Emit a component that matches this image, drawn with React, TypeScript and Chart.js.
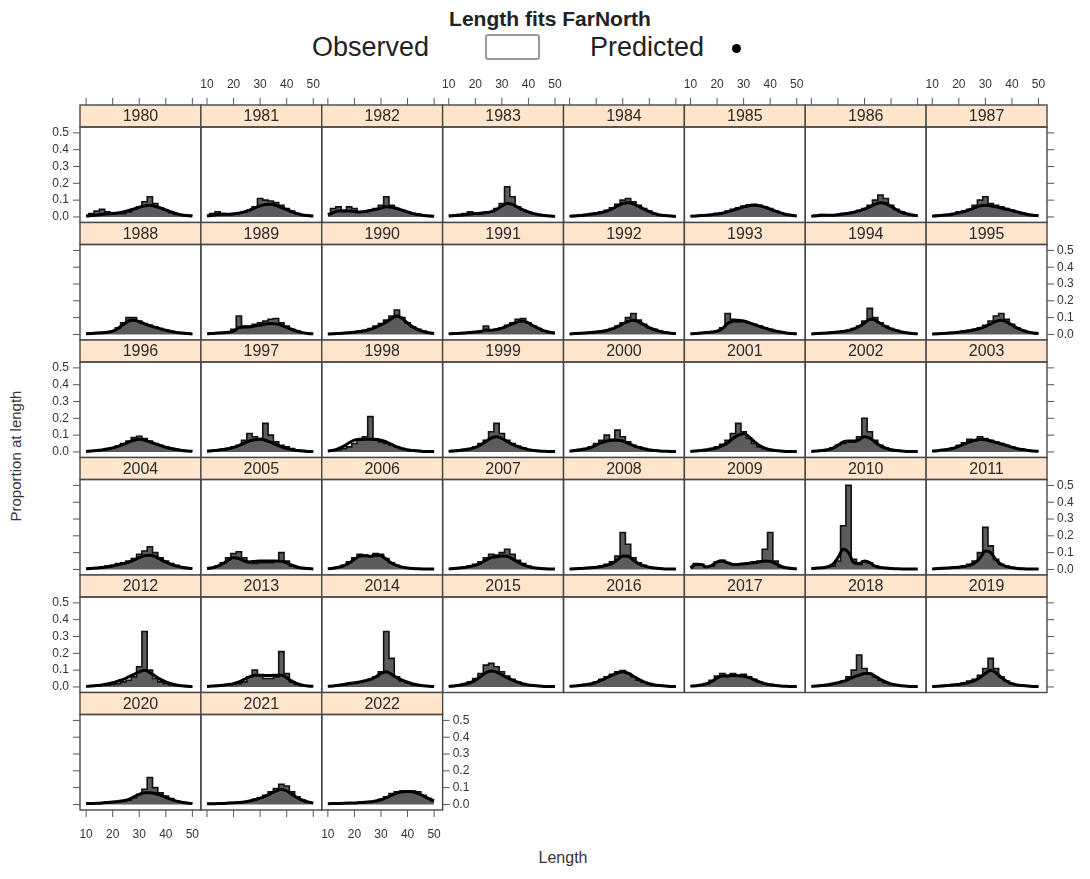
import React, { useEffect, useRef } from "react";
import { Chart, registerables } from "chart.js";

Chart.register(...registerables);

// ---------------- data ----------------
const lengthBins = [10, 12, 14, 16, 18, 20, 22, 24, 26, 28, 30, 32, 34, 36, 38, 40, 42, 44, 46, 48, 50];
const years = [
  1980, 1981, 1982, 1983, 1984, 1985, 1986, 1987,
  1988, 1989, 1990, 1991, 1992, 1993, 1994, 1995,
  1996, 1997, 1998, 1999, 2000, 2001, 2002, 2003,
  2004, 2005, 2006, 2007, 2008, 2009, 2010, 2011,
  2012, 2013, 2014, 2015, 2016, 2017, 2018, 2019,
  2020, 2021, 2022,
];
const xTicks = [10, 20, 30, 40, 50];
const yTicks = [0, 0.1, 0.2, 0.3, 0.4, 0.5];
const yTickLabels = ["0.0", "0.1", "0.2", "0.3", "0.4", "0.5"];

const obs1980 = [.01,.02,.035,.045,.03,.02,.025,.02,.03,.045,.06,.09,.12,.08,.055,.04,.025,.015,.01,.01,.01];
const obs1981 = [.01,.02,.03,.02,.015,.02,.025,.03,.04,.06,.11,.1,.095,.085,.07,.05,.035,.02,.012,.008,.005];
const obs1982 = [.02,.05,.06,.04,.06,.05,.03,.03,.04,.05,.07,.12,.07,.05,.04,.03,.02,.015,.01,.008,.005];
const obs1983 = [.01,.01,.015,.02,.03,.02,.02,.025,.03,.05,.08,.18,.12,.06,.04,.03,.02,.015,.01,.006,.004];
const obs1984 = [.005,.008,.01,.015,.02,.025,.03,.04,.055,.075,.1,.11,.09,.07,.05,.035,.02,.012,.008,.005,.003];
const obs1985 = [.005,.007,.01,.012,.015,.02,.025,.035,.045,.055,.065,.072,.075,.07,.06,.05,.035,.025,.015,.01,.006];
const obs1986 = [.005,.01,.015,.012,.01,.015,.02,.025,.03,.04,.05,.07,.1,.13,.11,.07,.045,.03,.02,.012,.008];
const obs1987 = [.005,.01,.012,.015,.02,.03,.035,.045,.07,.1,.12,.08,.07,.06,.05,.04,.03,.02,.015,.01,.008];
const obs1988 = [.005,.008,.01,.012,.015,.02,.04,.07,.1,.1,.08,.065,.055,.045,.035,.025,.018,.012,.008,.005,.003];
const obs1989 = [.005,.008,.01,.012,.015,.03,.11,.05,.05,.06,.07,.08,.09,.095,.07,.05,.03,.02,.01,.006,.004];
const obs1990 = [.003,.005,.008,.01,.012,.015,.02,.025,.035,.05,.065,.085,.11,.145,.1,.07,.045,.03,.02,.01,.006];
const obs1991 = [.004,.006,.008,.01,.012,.015,.02,.05,.025,.03,.04,.055,.07,.09,.095,.07,.05,.035,.02,.012,.008];
const obs1992 = [.003,.005,.008,.01,.012,.015,.02,.025,.035,.05,.07,.1,.125,.085,.06,.04,.03,.02,.012,.008,.005];
const obs1993 = [.005,.007,.01,.012,.015,.02,.04,.125,.09,.075,.08,.07,.06,.05,.04,.03,.02,.015,.01,.006,.004];
const obs1994 = [.003,.005,.008,.01,.012,.015,.02,.025,.035,.05,.08,.155,.1,.07,.05,.035,.025,.015,.01,.006,.004];
const obs1995 = [.003,.005,.007,.01,.012,.015,.02,.025,.03,.04,.055,.08,.11,.125,.09,.06,.04,.025,.015,.01,.006];
const obs1996 = [.003,.005,.008,.012,.018,.025,.035,.05,.065,.085,.093,.08,.065,.05,.04,.03,.022,.015,.01,.007,.005];
const obs1997 = [.005,.008,.012,.015,.02,.03,.04,.07,.11,.09,.08,.17,.1,.06,.04,.03,.02,.012,.008,.005,.003];
const obs1998 = [.005,.008,.012,.02,.03,.05,.07,.09,.21,.07,.06,.05,.04,.03,.02,.015,.01,.008,.005,.004,.003];
const obs1999 = [.005,.008,.01,.015,.02,.03,.05,.07,.12,.17,.11,.07,.05,.035,.025,.015,.01,.007,.005,.003,.002];
const obs2000 = [.005,.01,.015,.02,.03,.05,.07,.1,.075,.13,.09,.06,.04,.03,.02,.015,.01,.007,.005,.003,.002];
const obs2001 = [.004,.006,.01,.015,.02,.03,.045,.07,.11,.17,.12,.08,.05,.03,.02,.012,.008,.005,.003,.002,.002];
const obs2002 = [.004,.006,.01,.015,.025,.04,.05,.06,.06,.09,.2,.12,.07,.04,.025,.015,.01,.006,.004,.003,.002];
const obs2003 = [.005,.008,.012,.018,.025,.04,.055,.075,.065,.09,.08,.07,.06,.05,.04,.03,.02,.015,.01,.006,.004];
const obs2004 = [.005,.008,.01,.015,.02,.025,.035,.04,.05,.065,.09,.11,.135,.1,.07,.05,.035,.025,.015,.01,.006];
const obs2005 = [.005,.01,.02,.04,.07,.095,.105,.07,.04,.035,.04,.04,.04,.05,.1,.05,.02,.01,.006,.004,.003];
const obs2006 = [.005,.008,.015,.025,.045,.07,.09,.085,.08,.095,.09,.065,.04,.025,.015,.01,.007,.005,.003,.002,.002];
const obs2007 = [.004,.006,.01,.015,.02,.03,.045,.07,.09,.085,.1,.12,.09,.055,.035,.02,.012,.008,.005,.003,.002];
const obs2008 = [.003,.005,.008,.01,.012,.015,.02,.03,.045,.08,.22,.15,.07,.04,.025,.015,.01,.006,.004,.003,.002];
const obs2009 = [.01,.035,.03,.015,.02,.045,.055,.04,.03,.03,.035,.04,.045,.05,.12,.22,.05,.015,.008,.005,.003];
const obs2010 = [.005,.008,.01,.015,.02,.05,.26,.5,.06,.03,.05,.04,.02,.012,.008,.005,.004,.003,.002,.002,.002];
const obs2011 = [.004,.006,.008,.01,.012,.015,.02,.03,.05,.1,.25,.14,.06,.03,.02,.012,.008,.005,.004,.003,.002];
const obs2012 = [.004,.006,.008,.01,.012,.015,.02,.03,.04,.06,.12,.33,.1,.05,.03,.02,.012,.008,.005,.003,.002];
const obs2013 = [.004,.006,.008,.01,.012,.015,.02,.03,.06,.1,.07,.05,.05,.06,.21,.08,.03,.015,.008,.005,.004];
const obs2014 = [.004,.006,.01,.015,.02,.025,.03,.035,.045,.06,.09,.33,.17,.06,.035,.025,.015,.01,.006,.004,.003];
const obs2015 = [.004,.008,.012,.02,.03,.05,.08,.13,.14,.12,.09,.065,.045,.03,.02,.013,.008,.005,.004,.003,.002];
const obs2016 = [.005,.007,.01,.015,.02,.03,.045,.06,.075,.09,.097,.08,.06,.04,.028,.018,.012,.008,.005,.003,.002];
const obs2017 = [.005,.008,.012,.02,.04,.065,.08,.07,.08,.07,.075,.06,.045,.03,.02,.014,.01,.006,.004,.003,.002];
const obs2018 = [.004,.006,.01,.014,.02,.025,.035,.06,.1,.19,.11,.08,.06,.04,.025,.015,.01,.007,.004,.003,.002];
const obs2019 = [.003,.005,.008,.01,.014,.018,.025,.035,.045,.07,.11,.17,.11,.06,.035,.02,.013,.008,.005,.003,.002];
const obs2020 = [.008,.008,.008,.01,.012,.015,.018,.02,.025,.04,.06,.09,.16,.1,.07,.05,.035,.022,.015,.01,.008];
const obs2021 = [.005,.005,.006,.007,.008,.01,.012,.015,.02,.03,.04,.055,.075,.095,.12,.11,.075,.045,.025,.015,.01];
const obs2022 = [.006,.006,.007,.008,.009,.01,.012,.013,.016,.02,.03,.045,.065,.075,.08,.08,.08,.075,.055,.035,.02];

const pred1980 = [.005,.008,.012,.016,.018,.02,.024,.03,.038,.048,.058,.066,.07,.064,.054,.042,.03,.02,.012,.008,.005];
const pred1981 = [.006,.01,.015,.016,.016,.018,.022,.03,.04,.054,.066,.074,.075,.068,.056,.043,.03,.02,.012,.008,.005];
const pred1982 = [.012,.025,.035,.035,.035,.032,.03,.032,.038,.045,.053,.06,.058,.05,.04,.03,.02,.014,.009,.006,.004];
const pred1983 = [.006,.008,.01,.013,.018,.02,.022,.026,.032,.045,.065,.08,.075,.058,.042,.03,.02,.013,.008,.005,.003];
const pred1984 = [.004,.006,.008,.012,.016,.02,.026,.035,.048,.065,.08,.085,.078,.062,.046,.032,.02,.012,.008,.005,.003];
const pred1985 = [.004,.006,.008,.01,.013,.017,.022,.03,.04,.05,.06,.067,.07,.067,.058,.047,.035,.024,.015,.01,.006];
const pred1986 = [.004,.007,.01,.01,.01,.013,.017,.022,.028,.036,.046,.06,.075,.085,.08,.062,.043,.028,.018,.011,.007];
const pred1987 = [.004,.007,.01,.013,.018,.025,.032,.042,.055,.066,.07,.066,.06,.053,.046,.038,.03,.022,.015,.01,.007];
const pred1988 = [.004,.006,.008,.01,.013,.02,.035,.06,.08,.085,.075,.063,.052,.042,.033,.025,.018,.012,.008,.005,.003];
const pred1989 = [.004,.006,.008,.01,.013,.02,.04,.045,.045,.05,.056,.062,.065,.063,.055,.042,.03,.019,.011,.006,.004];
const pred1990 = [.003,.004,.006,.008,.01,.013,.017,.022,.03,.042,.056,.074,.095,.11,.095,.068,.045,.028,.017,.01,.006];
const pred1991 = [.004,.005,.007,.009,.011,.014,.018,.026,.025,.03,.038,.05,.063,.075,.08,.068,.05,.035,.021,.013,.008];
const pred1992 = [.003,.005,.007,.009,.011,.014,.018,.024,.033,.046,.063,.078,.085,.075,.058,.04,.028,.018,.011,.007,.005];
const pred1993 = [.004,.006,.009,.011,.014,.02,.035,.065,.08,.085,.08,.07,.058,.048,.038,.028,.02,.014,.009,.006,.004];
const pred1994 = [.003,.005,.007,.009,.011,.014,.018,.024,.033,.047,.068,.09,.085,.065,.047,.033,.023,.015,.01,.006,.004];
const pred1995 = [.003,.004,.006,.008,.01,.013,.017,.022,.028,.036,.048,.063,.078,.085,.075,.056,.038,.024,.015,.009,.006];
const pred1996 = [.003,.005,.008,.012,.017,.024,.033,.045,.058,.07,.075,.07,.06,.048,.038,.028,.02,.014,.009,.006,.004];
const pred1997 = [.004,.007,.01,.014,.019,.027,.038,.052,.065,.072,.075,.07,.058,.043,.03,.02,.013,.008,.005,.003,.002];
const pred1998 = [.005,.01,.02,.035,.055,.07,.075,.075,.075,.075,.07,.06,.045,.03,.02,.012,.008,.005,.003,.002,.002];
const pred1999 = [.004,.006,.009,.013,.018,.027,.042,.062,.082,.09,.08,.062,.045,.032,.022,.014,.009,.006,.004,.003,.002];
const pred2000 = [.004,.008,.013,.018,.026,.04,.055,.065,.07,.07,.065,.052,.038,.027,.019,.012,.008,.005,.004,.003,.002];
const pred2001 = [.003,.005,.008,.012,.017,.025,.037,.055,.08,.1,.11,.09,.062,.038,.023,.013,.008,.005,.003,.002,.002];
const pred2002 = [.003,.005,.008,.013,.022,.04,.06,.065,.065,.072,.09,.082,.058,.036,.022,.013,.008,.005,.003,.002,.002];
const pred2003 = [.004,.007,.011,.016,.022,.033,.046,.06,.07,.075,.072,.065,.056,.047,.038,.029,.02,.014,.009,.006,.004];
const pred2004 = [.004,.006,.008,.012,.016,.021,.028,.035,.044,.056,.07,.082,.085,.077,.06,.043,.03,.02,.013,.008,.005];
const pred2005 = [.005,.01,.02,.035,.055,.07,.065,.05,.045,.048,.05,.05,.05,.05,.048,.04,.025,.015,.008,.005,.003];
const pred2006 = [.004,.007,.013,.022,.038,.06,.08,.082,.078,.085,.082,.06,.038,.023,.014,.009,.006,.004,.003,.002,.002];
const pred2007 = [.003,.005,.008,.012,.017,.025,.037,.055,.07,.075,.08,.078,.063,.044,.028,.017,.01,.007,.004,.003,.002];
const pred2008 = [.003,.004,.006,.008,.01,.013,.017,.024,.036,.058,.08,.078,.055,.034,.021,.013,.008,.005,.003,.002,.002];
const pred2009 = [.01,.03,.03,.015,.025,.045,.05,.04,.03,.03,.033,.037,.04,.045,.05,.048,.035,.02,.01,.006,.004];
const pred2010 = [.005,.008,.01,.015,.03,.07,.12,.1,.04,.035,.05,.04,.02,.012,.008,.005,.004,.003,.002,.002,.002];
const pred2011 = [.003,.005,.007,.009,.011,.013,.017,.024,.038,.068,.11,.1,.058,.03,.017,.01,.006,.004,.003,.002,.002];
const pred2012 = [.003,.005,.008,.012,.018,.025,.035,.045,.06,.075,.09,.1,.085,.065,.045,.03,.02,.012,.007,.004,.003];
const pred2013 = [.003,.005,.007,.01,.014,.02,.03,.045,.06,.07,.07,.068,.068,.07,.07,.055,.035,.02,.011,.006,.004];
const pred2014 = [.004,.006,.01,.014,.02,.025,.03,.037,.045,.06,.08,.09,.075,.055,.04,.028,.018,.012,.007,.004,.003];
const pred2015 = [.003,.006,.01,.016,.025,.04,.062,.085,.095,.088,.072,.055,.04,.028,.018,.012,.008,.005,.003,.002,.002];
const pred2016 = [.004,.006,.009,.013,.018,.027,.04,.055,.07,.083,.09,.082,.064,.045,.03,.019,.012,.008,.005,.003,.002];
const pred2017 = [.004,.007,.011,.018,.033,.052,.065,.065,.068,.066,.064,.055,.042,.03,.02,.013,.009,.006,.004,.003,.002];
const pred2018 = [.003,.005,.008,.012,.018,.025,.033,.045,.06,.07,.08,.08,.065,.045,.03,.018,.011,.007,.004,.003,.002];
const pred2019 = [.003,.004,.006,.008,.011,.015,.02,.028,.038,.056,.08,.1,.085,.056,.034,.02,.012,.008,.005,.003,.002];
const pred2020 = [.005,.006,.007,.009,.012,.015,.018,.022,.03,.045,.06,.07,.07,.065,.055,.042,.03,.02,.013,.008,.005];
const pred2021 = [.004,.004,.005,.006,.008,.01,.012,.015,.02,.028,.038,.05,.065,.08,.09,.08,.06,.04,.025,.015,.009];
const pred2022 = [.004,.005,.006,.007,.008,.009,.011,.013,.016,.02,.028,.04,.055,.068,.075,.077,.075,.065,.05,.035,.022];

const observed = [
  obs1980, obs1981, obs1982, obs1983, obs1984, obs1985, obs1986, obs1987,
  obs1988, obs1989, obs1990, obs1991, obs1992, obs1993, obs1994, obs1995,
  obs1996, obs1997, obs1998, obs1999, obs2000, obs2001, obs2002, obs2003,
  obs2004, obs2005, obs2006, obs2007, obs2008, obs2009, obs2010, obs2011,
  obs2012, obs2013, obs2014, obs2015, obs2016, obs2017, obs2018, obs2019,
  obs2020, obs2021, obs2022,
];
const predicted = [
  pred1980, pred1981, pred1982, pred1983, pred1984, pred1985, pred1986, pred1987,
  pred1988, pred1989, pred1990, pred1991, pred1992, pred1993, pred1994, pred1995,
  pred1996, pred1997, pred1998, pred1999, pred2000, pred2001, pred2002, pred2003,
  pred2004, pred2005, pred2006, pred2007, pred2008, pred2009, pred2010, pred2011,
  pred2012, pred2013, pred2014, pred2015, pred2016, pred2017, pred2018, pred2019,
  pred2020, pred2021, pred2022,
];

// ---------------- layout ----------------
const NCOL = 8;
const NROW = Math.ceil(years.length / NCOL);
const COL_LEFT0 = 80;
const COL_W = 120.875;
const ROW_TOP0 = 105;
const STRIP_H = 22;
const PLOT_H = 95.5;
const ROW_H = STRIP_H + PLOT_H;
const PAD_L = 60;
const PAD_T = 36;
const CANVAS_W = 250;
const CANVAS_H = 210;
const X_MIN = 7.7;
const X_MAX = 53.2;
const Y_MIN = -0.033;
const Y_MAX = 0.535;

const FONT = '"Liberation Sans", Arial, Helvetica, sans-serif';
const STRIP_FILL = "#FFE5CC";
const BORDER = "#474747";
const TICK_COL = "#555";
const TEXT_COL = "#333";

const panelPlugin = {
  id: "latticePanel",
  afterDraw(chart: any) {
    const o = chart.options.plugins.latticePanel;
    const { row, col, year, lastInRow, lastRow } = o;
    const ctx = chart.ctx;
    const { left, right, top, bottom } = chart.chartArea;
    const xs = chart.scales.x;
    const ys = chart.scales.y;
    const stripTop = top - STRIP_H;
    ctx.save();
    // strip
    ctx.fillStyle = STRIP_FILL;
    ctx.fillRect(left, stripTop, right - left, STRIP_H);
    ctx.strokeStyle = BORDER;
    ctx.lineWidth = 1.4;
    ctx.strokeRect(left, stripTop, right - left, STRIP_H);
    ctx.strokeRect(left, top, right - left, bottom - top);
    ctx.fillStyle = "#2a2a2a";
    ctx.font = `16px ${FONT}`;
    ctx.textAlign = "center";
    ctx.textBaseline = "middle";
    ctx.fillText(String(year), (left + right) / 2, stripTop + STRIP_H / 2 + 1);

    ctx.strokeStyle = TICK_COL;
    ctx.lineWidth = 1;
    ctx.fillStyle = TEXT_COL;
    ctx.font = `12px ${FONT}`;
    // top axis
    if (row === 0) {
      for (const t of xTicks) {
        const x = xs.getPixelForValue(t);
        ctx.beginPath();
        ctx.moveTo(x, stripTop);
        ctx.lineTo(x, stripTop - 7);
        ctx.stroke();
        if (col % 2 === 1) {
          ctx.textAlign = "center";
          ctx.textBaseline = "middle";
          ctx.fillText(String(t), x, stripTop - 20);
        }
      }
    }
    // bottom axis
    if (lastRow) {
      for (const t of xTicks) {
        const x = xs.getPixelForValue(t);
        ctx.beginPath();
        ctx.moveTo(x, bottom);
        ctx.lineTo(x, bottom + 7);
        ctx.stroke();
        if (col % 2 === 0) {
          ctx.textAlign = "center";
          ctx.textBaseline = "middle";
          ctx.fillText(String(t), x, bottom + 25);
        }
      }
    }
    // left axis
    if (col === 0) {
      yTicks.forEach((t, i) => {
        const y = ys.getPixelForValue(t);
        ctx.beginPath();
        ctx.moveTo(left, y);
        ctx.lineTo(left - 7, y);
        ctx.stroke();
        if (row % 2 === 0) {
          ctx.textAlign = "right";
          ctx.textBaseline = "middle";
          ctx.fillText(yTickLabels[i], left - 11, y);
        }
      });
    }
    // right axis
    if (lastInRow) {
      yTicks.forEach((t, i) => {
        const y = ys.getPixelForValue(t);
        ctx.beginPath();
        ctx.moveTo(right, y);
        ctx.lineTo(right + 7, y);
        ctx.stroke();
        if (row % 2 === 1) {
          ctx.textAlign = "left";
          ctx.textBaseline = "middle";
          ctx.fillText(yTickLabels[i], right + 10, y);
        }
      });
    }
    ctx.restore();
  },
};

function Panel({ index }: { index: number }) {
  const ref = useRef<HTMLCanvasElement>(null);
  const row = Math.floor(index / NCOL);
  const col = index % NCOL;
  const cellLeft = COL_LEFT0 + col * COL_W;
  const stripTop = ROW_TOP0 + row * ROW_H;
  const canvasLeft = Math.round(cellLeft) - PAD_L;
  const canvasTop = Math.round(stripTop) - PAD_T;
  const padL = cellLeft - canvasLeft;
  const padR = CANVAS_W - padL - COL_W;
  const padT = stripTop + STRIP_H - canvasTop;
  const padB = CANVAS_H - padT - PLOT_H;
  const lastInRow = col === NCOL - 1 || index === years.length - 1;
  const lastRow = row === NROW - 1;

  useEffect(() => {
    const obs = observed[index];
    const pred = predicted[index];
    const chart = new Chart(ref.current as HTMLCanvasElement, {
      type: "line",
      data: {
        datasets: [
          {
            label: "Predicted",
            data: lengthBins.map((x, i) => ({ x, y: pred[i] })),
            borderColor: "#000",
            borderWidth: 3,
            pointRadius: 0,
            fill: false,
            cubicInterpolationMode: "monotone",
            order: 0,
          },
          {
            label: "Observed",
            data: lengthBins.map((x, i) => ({ x, y: obs[i] })),
            borderColor: "#111",
            borderWidth: 1.6,
            backgroundColor: "#5c5c5c",
            fill: "origin",
            stepped: "middle",
            pointRadius: 0,
            order: 1,
          },
        ],
      } as any,
      options: {
        responsive: false,
        animation: false,
        events: [],
        layout: { padding: { left: padL, right: padR, top: padT, bottom: padB } },
        plugins: {
          legend: { display: false },
          title: { display: false },
          tooltip: { enabled: false },
          latticePanel: { row, col, year: years[index], lastInRow, lastRow },
        } as any,
        scales: {
          x: { type: "linear", min: X_MIN, max: X_MAX, display: false },
          y: { type: "linear", min: Y_MIN, max: Y_MAX, display: false },
        },
      },
      plugins: [panelPlugin],
    });
    return () => chart.destroy();
  }, [index]);

  return (
    <canvas
      ref={ref}
      width={CANVAS_W}
      height={CANVAS_H}
      style={{ position: "absolute", left: canvasLeft, top: canvasTop, width: CANVAS_W, height: CANVAS_H }}
    />
  );
}

export default function App() {
  return (
    <div
      style={{
        position: "absolute",
        left: 0,
        top: 0,
        width: 1090,
        height: 879,
        background: "#fff",
        overflow: "hidden",
        fontFamily: FONT,
      }}
    >
      <div
        style={{
          position: "absolute", left: 350, top: 7, width: 400, textAlign: "center",
          fontSize: 21, lineHeight: "24px", fontWeight: "bold", color: "#222",
        }}
      >
        Length fits FarNorth
      </div>
      <div style={{ position: "absolute", left: 312, top: 32, fontSize: 27, lineHeight: "30px", color: "#222" }}>
        Observed
      </div>
      <div
        style={{
          position: "absolute", left: 485, top: 34, width: 51, height: 22,
          border: "2px solid #999", borderRadius: 3, background: "#fff",
        }}
      />
      <div style={{ position: "absolute", left: 590, top: 32, fontSize: 27, lineHeight: "30px", color: "#222" }}>
        Predicted
      </div>
      <div
        style={{
          position: "absolute", left: 731.5, top: 43.5, width: 9, height: 9,
          borderRadius: "50%", background: "#000",
        }}
      />
      <div
        style={{
          position: "absolute", left: -84, top: 446, width: 200, height: 20, lineHeight: "20px",
          textAlign: "center", fontSize: 15, color: "#333", transform: "rotate(-90deg)",
        }}
      >
        Proportion at length
      </div>
      <div
        style={{
          position: "absolute", left: 463, top: 848, width: 200, lineHeight: "20px",
          textAlign: "center", fontSize: 16, color: "#333",
        }}
      >
        Length
      </div>
      {years.map((_, i) => (
        <Panel key={i} index={i} />
      ))}
    </div>
  );
}
